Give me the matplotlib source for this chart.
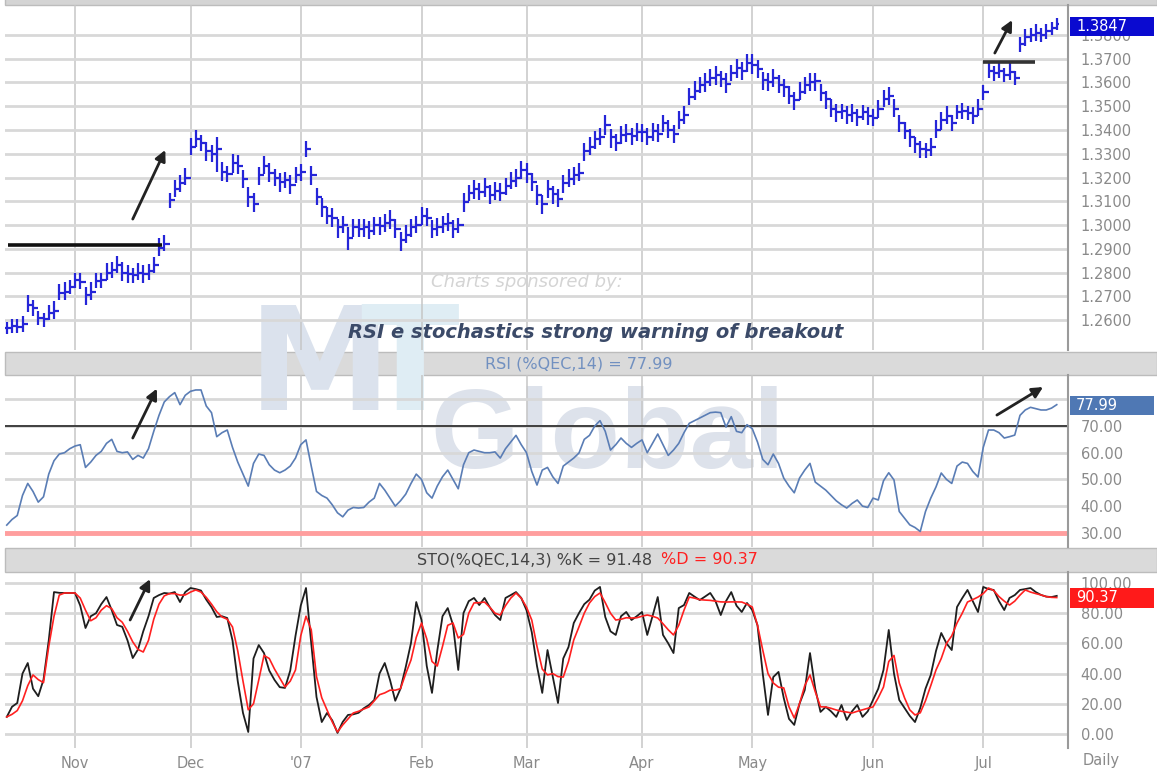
import numpy as np
import pandas as pd
import matplotlib
matplotlib.use("Agg")
import matplotlib.pyplot as plt
import matplotlib.transforms as mtransforms
from matplotlib.patches import Rectangle

# daily EUR/USD style data, 13 Oct 2006 - 20 Jul 2007 (weekdays)
closes = [
    1.2565, 1.2575, 1.2570, 1.2585, 1.2665, 1.2650, 1.2610, 1.2605, 1.2630, 1.2640,
    1.2715, 1.2720, 1.2740, 1.2770, 1.2760, 1.2705, 1.2720, 1.2765, 1.2770, 1.2800,
    1.2810, 1.2830, 1.2800, 1.2795, 1.2790, 1.2800, 1.2795, 1.2805, 1.2830, 1.2905,
    1.2920, 1.3105, 1.3150, 1.3175, 1.3200, 1.3330, 1.3360, 1.3345, 1.3310, 1.3300,
    1.3320, 1.3225, 1.3215, 1.3260, 1.3250, 1.3195, 1.3120, 1.3090, 1.3210, 1.3250,
    1.3220, 1.3200, 1.3180, 1.3190, 1.3170, 1.3210, 1.3225, 1.3320, 1.3210, 1.3120,
    1.3075, 1.3040, 1.3030, 1.2990, 1.3000, 1.2945, 1.2990, 1.2985, 1.2990, 1.2975,
    1.3000, 1.2995, 1.3010, 1.3020, 1.2985, 1.2935, 1.2960, 1.2990, 1.3000, 1.3040,
    1.3030, 1.2985, 1.2990, 1.3005, 1.3010, 1.2985, 1.3000, 1.3095, 1.3135, 1.3150,
    1.3140, 1.3160, 1.3125, 1.3145, 1.3135, 1.3165, 1.3185, 1.3200, 1.3230, 1.3215,
    1.3180, 1.3125, 1.3090, 1.3150, 1.3130, 1.3110, 1.3175, 1.3195, 1.3210, 1.3220,
    1.3310, 1.3330, 1.3360, 1.3370, 1.3420, 1.3370, 1.3345, 1.3380, 1.3385, 1.3375,
    1.3390, 1.3390, 1.3370, 1.3395, 1.3385, 1.3430, 1.3400, 1.3385, 1.3440, 1.3465,
    1.3540, 1.3565, 1.3590, 1.3600, 1.3620, 1.3630, 1.3615, 1.3595, 1.3640, 1.3660,
    1.3650, 1.3680, 1.3675, 1.3655, 1.3610, 1.3600, 1.3620, 1.3590, 1.3580, 1.3545,
    1.3525, 1.3560, 1.3590, 1.3600, 1.3605, 1.3555, 1.3530, 1.3490, 1.3475, 1.3480,
    1.3465, 1.3470, 1.3455, 1.3475, 1.3460, 1.3450, 1.3490, 1.3530, 1.3545, 1.3490,
    1.3430, 1.3395, 1.3370, 1.3340, 1.3320, 1.3315, 1.3330, 1.3400, 1.3440, 1.3460,
    1.3430, 1.3475, 1.3480, 1.3470, 1.3460, 1.3490, 1.3560, 1.3650, 1.3640, 1.3650,
    1.3630, 1.3645, 1.3620, 1.3760, 1.3790, 1.3800, 1.3810, 1.3800, 1.3815, 1.3830,
    1.3847,
]

# bar extent above / below the close, in pips
hi_pips = [
    25, 30, 35, 30, 40, 35, 30, 25, 35, 40,
    35, 40, 30, 30, 40, 35, 40, 35, 30, 40,
    35, 40, 45, 35, 30, 40, 35, 30, 35, 40,
    40, 30, 40, 35, 40, 35, 40, 35, 40, 35,
    50, 40, 35, 40, 45, 35, 40, 45, 35, 40,
    40, 35, 40, 35, 40, 35, 30, 35, 40, 35,
    40, 35, 40, 35, 40, 45, 35, 40, 35, 40,
    35, 40, 35, 45, 40, 35, 40, 35, 40, 35,
    40, 35, 40, 35, 40, 35, 30, 40, 35, 40,
    35, 40, 45, 35, 40, 35, 40, 35, 40, 45,
    40, 45, 35, 40, 35, 40, 35, 40, 35, 40,
    35, 40, 35, 40, 45, 35, 40, 35, 40, 35,
    40, 35, 40, 35, 40, 35, 40, 35, 40, 35,
    35, 40, 35, 40, 35, 40, 35, 45, 35, 40,
    35, 40, 45, 40, 35, 40, 35, 40, 35, 40,
    35, 40, 35, 40, 35, 40, 35, 40, 35, 30,
    35, 40, 35, 30, 35, 40, 35, 40, 35, 40,
    35, 40, 35, 30, 35, 30, 35, 40, 35, 40,
    35, 30, 35, 30, 35, 40, 30, 35, 30, 35,
    30, 35, 30, 30, 35, 30, 35, 30, 30, 25,
    25,
]
lo_pips = [
    25, 30, 25, 35, 30, 35, 30, 35, 30, 35,
    30, 35, 30, 35, 30, 40, 35, 30, 35, 30,
    35, 30, 35, 40, 35, 30, 40, 35, 30, 35,
    30, 35, 30, 35, 30, 35, 30, 35, 40, 35,
    95, 40, 35, 40, 35, 40, 45, 35, 40, 35,
    40, 35, 40, 35, 40, 35, 40, 35, 40, 35,
    40, 35, 40, 45, 35, 50, 40, 35, 40, 35,
    40, 35, 40, 35, 40, 45, 35, 40, 35, 40,
    35, 40, 35, 40, 35, 40, 35, 40, 35, 40,
    35, 40, 35, 40, 35, 40, 35, 40, 35, 40,
    35, 40, 45, 35, 40, 35, 40, 35, 40, 35,
    40, 35, 40, 35, 40, 45, 35, 40, 35, 40,
    35, 40, 35, 40, 35, 40, 35, 40, 35, 40,
    35, 40, 35, 40, 35, 40, 35, 40, 35, 40,
    40, 35, 40, 35, 40, 35, 40, 35, 40, 35,
    40, 35, 40, 35, 40, 35, 40, 35, 40, 35,
    40, 35, 40, 35, 40, 35, 40, 35, 40, 35,
    40, 35, 40, 35, 40, 35, 40, 35, 40, 35,
    35, 30, 35, 30, 35, 30, 35, 30, 35, 30,
    30, 35, 30, 30, 35, 30, 35, 30, 30, 30,
    25,
]

rsi = [
    32.9, 35.0, 36.5, 44.0, 48.5, 45.5, 41.5, 43.5, 52.0, 57.0,
    59.5, 60.0, 61.5, 62.5, 63.0, 54.5, 56.5, 59.0, 60.5, 63.5,
    65.0, 60.5, 60.0, 60.3, 57.5, 59.0, 58.0, 61.5, 68.0, 74.0,
    79.0, 81.0, 82.5, 78.0, 81.5, 83.0, 83.5, 83.5, 77.5, 75.0,
    66.0, 67.5, 68.5, 62.0, 56.5, 52.0, 47.5, 56.0, 59.5, 59.0,
    55.5, 53.5, 52.5, 53.5, 55.0, 58.0, 63.0, 64.8, 55.0, 45.5,
    44.0, 43.0, 40.5, 37.5, 36.0, 38.5, 39.5, 39.3, 39.5, 41.5,
    43.0, 48.5, 46.0, 43.0, 40.0, 42.0, 44.5, 48.5, 52.0, 50.0,
    45.0, 43.0, 47.5, 51.0, 53.5, 50.0, 46.5, 55.5, 60.0, 61.0,
    60.5, 60.0, 60.0, 60.3, 58.0, 61.5, 64.0, 66.5, 63.0, 60.0,
    53.0, 47.9, 53.5, 54.5, 51.0, 48.5, 55.0, 56.5, 58.0, 59.9,
    65.0, 66.5, 70.0, 72.0, 68.0, 61.0, 63.0, 65.5, 63.5, 62.0,
    63.5, 64.8, 60.0, 63.5, 67.0, 63.0, 59.0, 61.0, 63.5, 67.5,
    71.0, 72.0, 73.0, 74.0, 75.0, 75.2, 75.0, 69.6, 73.5, 68.0,
    67.5, 70.5, 69.0, 64.0, 57.5, 55.5, 59.5, 56.0, 50.5, 47.5,
    45.0, 50.5, 53.5, 56.0, 49.0, 47.5, 46.0, 44.0, 42.0, 40.5,
    39.3, 41.0, 42.3, 40.0, 39.5, 43.0, 42.3, 49.5, 52.5, 49.8,
    38.0, 35.5, 33.0, 32.0, 30.5, 38.0, 43.0, 47.2, 52.4, 50.0,
    48.5, 55.0, 56.5, 56.0, 53.0, 50.9, 62.0, 68.5, 68.5, 67.5,
    65.5, 66.0, 66.6, 74.0, 76.0, 77.0, 76.5, 76.0, 76.0, 76.7,
    77.99,
]

sto_k = [
    11.3, 18.0, 20.5, 40.0, 47.0, 30.0, 25.0, 36.0, 62.0, 94.0,
    93.5, 93.4, 93.4, 93.4, 85.0, 70.2, 78.0, 80.0, 86.0, 90.7,
    82.0, 72.2, 71.0, 62.0, 50.3, 56.0, 68.0, 78.0, 90.1, 92.0,
    93.4, 93.0, 94.0, 87.4, 94.0, 96.7, 96.0, 95.0, 89.0, 84.0,
    77.5, 78.0, 76.8, 62.0, 35.0, 13.9, 1.3, 50.0, 58.9, 53.6,
    42.0, 35.8, 31.0, 30.5, 42.0, 65.0, 85.0, 96.7, 60.0, 24.5,
    7.9, 13.9, 9.0, 0.7, 8.0, 12.6, 13.0, 14.0, 17.0, 19.2,
    22.5, 40.0, 47.0, 35.8, 22.0, 30.0, 44.4, 60.3, 87.4, 75.5,
    45.0, 27.2, 55.0, 78.0, 83.4, 72.2, 42.4, 80.1, 88.0, 90.1,
    85.4, 90.1, 84.0, 78.8, 75.5, 90.1, 92.0, 94.0, 90.1, 82.0,
    67.5, 45.0, 27.2, 55.6, 38.0, 20.5, 50.0, 57.6, 73.5, 80.1,
    86.0, 89.0, 95.0, 97.4, 77.5, 68.0, 65.6, 78.0, 80.8, 75.5,
    78.0, 80.8, 65.6, 78.0, 90.7, 65.6, 60.0, 53.6, 83.4, 85.4,
    93.4, 91.0, 88.7, 91.0, 93.4, 88.0, 78.8, 88.0, 94.0, 85.0,
    80.8, 86.8, 82.1, 72.0, 40.0, 12.6, 37.7, 41.1, 23.8, 10.0,
    6.0, 20.0, 29.1, 53.6, 30.0, 14.6, 17.9, 15.0, 11.3, 19.2,
    9.3, 15.0, 19.2, 11.3, 15.0, 22.5, 30.0, 42.4, 68.9, 40.0,
    22.5, 17.2, 12.0, 7.9, 17.2, 30.0, 39.1, 55.0, 66.9, 60.0,
    55.6, 84.1, 90.0, 95.4, 88.0, 80.8, 97.4, 96.0, 95.4, 88.0,
    82.1, 90.1, 92.0, 95.4, 96.0, 96.7, 94.0, 92.1, 91.0, 90.7,
    91.48,
]

sto_d = [
    11.3, 13.0, 15.5, 22.0, 32.0, 39.1, 36.0, 34.0, 58.0, 78.0,
    92.0, 93.4, 93.4, 93.4, 90.0, 82.0, 75.0, 77.0, 82.0, 85.0,
    83.0, 77.0, 74.0, 68.0, 61.0, 56.0, 54.3, 62.0, 76.0, 86.0,
    91.5, 93.0, 93.0, 92.0, 92.1, 94.0, 95.4, 94.0, 90.5, 86.0,
    81.0, 77.5, 76.0, 70.9, 55.0, 35.0, 16.0, 20.0, 35.8, 52.0,
    50.0, 43.0, 37.0, 31.1, 35.0, 42.4, 65.0, 78.0, 69.0, 38.0,
    24.0, 15.9, 8.0, 1.3, 6.0, 10.0, 13.9, 15.0, 16.5, 17.9,
    22.0, 26.0, 27.2, 29.0, 29.0, 30.0, 40.0, 49.0, 64.0, 73.5,
    63.0, 48.0, 45.0, 58.0, 72.0, 73.5, 63.6, 66.0, 80.0, 86.8,
    87.0, 87.4, 84.0, 80.0, 78.8, 85.0, 90.0, 93.4, 90.0, 84.0,
    75.5, 58.0, 43.0, 39.1, 40.0, 38.0, 37.7, 48.0, 62.3, 71.0,
    80.0, 86.8, 91.0, 93.4, 87.0, 80.0, 75.5, 76.0, 77.0, 76.8,
    77.0, 78.0, 78.8, 78.0, 76.8, 73.0, 69.0, 65.6, 72.0, 82.0,
    90.7, 90.0, 89.0, 88.7, 88.5, 88.0, 87.5, 87.4, 87.5, 87.5,
    87.4, 86.0, 84.1, 72.0, 55.6, 40.0, 33.8, 31.0, 30.5, 18.0,
    10.6, 20.0, 32.0, 39.1, 28.0, 18.0, 17.9, 17.0, 15.9, 15.0,
    14.5, 13.9, 15.0, 16.0, 17.0, 17.9, 24.0, 31.1, 48.0, 52.0,
    33.8, 24.0, 16.0, 12.6, 14.0, 22.0, 32.0, 42.4, 50.0, 60.0,
    65.0, 73.5, 80.0, 87.4, 89.0, 90.7, 93.0, 96.7, 95.0, 91.0,
    88.0, 85.4, 88.0, 92.0, 95.4, 94.0, 93.0, 92.1, 91.0, 90.5,
    90.37,
]

price_ticks = [1.26, 1.27, 1.28, 1.29, 1.30, 1.31, 1.32, 1.33, 1.34, 1.35, 1.36, 1.37, 1.38]
rsi_ticks = [30, 40, 50, 60, 70, 80]
sto_ticks = [0, 20, 40, 60, 80, 100]

dates = pd.bdate_range("2006-10-13", "2007-07-20")
n = len(dates)
idx = np.arange(n)
closes = np.array(closes)
highs = closes + np.array(hi_pips) / 10000.0
lows = closes - np.array(lo_pips) / 10000.0
opens = np.r_[closes[0], closes[:-1]]

month_pos = [i for i in range(1, n) if dates[i].month != dates[i - 1].month]
month_lbl = ["'07" if dates[i].month == 1 else dates[i].strftime("%b") for i in month_pos]

W, H = 1157, 773
fig = plt.figure(figsize=(W / 100, H / 100), dpi=100)
fig.patch.set_facecolor("white")


def px_box(x0, y0, x1, y1):
    return [x0 / W, 1 - y1 / H, (x1 - x0) / W, (y1 - y0) / H]


def strip(y0, y1, color="#dadada"):
    fig.add_artist(Rectangle((5 / W, 1 - y1 / H), (W - 5) / W, (y1 - y0) / H,
                             transform=fig.transFigure, facecolor=color,
                             edgecolor="#bcbcbc", lw=1, zorder=-2))


strip(-2, 5, "#d4d4d4")
strip(352, 375)
strip(548, 572)

# watermark (behind the data)
fig.text(248 / W, 1 - 410 / H, "M", fontsize=104, family="Liberation Sans Narrow",
         weight="bold", color="#dbe2ed", ha="left", va="baseline", zorder=-1)
fig.text(360 / W, 1 - 410 / H, "T", fontsize=104, family="Liberation Sans Narrow",
         weight="bold", color="#dfedf4", ha="left", va="baseline", zorder=-1)
fig.text(430 / W, 1 - 468 / H, "Global", fontsize=82, family="Liberation Sans",
         weight="bold", color="#dde2eb", ha="left", va="baseline", zorder=-1)

ax_p = fig.add_axes(px_box(5, 5, 1068, 350))
ax_r = fig.add_axes(px_box(5, 375, 1068, 547))
ax_s = fig.add_axes(px_box(5, 572, 1068, 748))

xlim = ((5 - 6.75) / 5.25, (1068 - 6.75) / 5.25)
grey_lbl = "#8a8a8a"
for ax in (ax_p, ax_r, ax_s):
    ax.set_facecolor("none")
    for s in ("top", "left", "bottom"):
        ax.spines[s].set_visible(False)
    ax.spines["right"].set_color("#9a9a9a")
    ax.spines["right"].set_linewidth(1.5)
    ax.set_xlim(*xlim)
    ax.set_xticks(month_pos)
    ax.yaxis.tick_right()
    ax.tick_params(axis="y", length=0, pad=9, labelsize=10.5, labelcolor=grey_lbl)
    ax.tick_params(axis="x", length=0)
    ax.grid(axis="y", color="#d8d8d8", lw=2)
    ax.grid(axis="x", color="#c6c6c6", lw=1.1)
    ax.set_axisbelow(True)

ax_p.tick_params(axis="x", labelbottom=False)
ax_r.tick_params(axis="x", labelbottom=False)
ax_s.set_xticklabels(month_lbl)
ax_s.tick_params(axis="x", pad=6, labelsize=10.5, labelcolor=grey_lbl)

# price panel
blue = "#2525d8"
ax_p.vlines(idx, lows, highs, color=blue, lw=1.6)
ax_p.hlines(opens, idx - 0.5, idx, color=blue, lw=1.6)
ax_p.hlines(closes, idx, idx + 0.5, color=blue, lw=1.6)
ax_p.set_ylim(1.24737, 1.39263)
ax_p.set_yticks(price_ticks)
ax_p.set_yticklabels([f"{v:.4f}" for v in price_ticks])
ax_p.hlines(1.2916, 0.3, 29.6, color="#111111", lw=2.6, zorder=4)
ax_p.hlines(1.3685, 186, 195.9, color="#333333", lw=2.6, zorder=4)

arrow = dict(arrowstyle="-|>", color="#222222", lw=2, mutation_scale=16, shrinkA=0, shrinkB=0)
ax_p.annotate("", xy=(30.2, 1.3316), xytext=(24.0, 1.3025), arrowprops=arrow, zorder=5)
ax_p.annotate("", xy=(191.5, 1.3863), xytext=(188.2, 1.3724), arrowprops=arrow, zorder=5)

# RSI panel
ax_r.plot(idx, rsi, color="#5a7db5", lw=1.2, zorder=3)
ax_r.axhline(70, color="#333333", lw=1.3, zorder=2)
ax_r.axhline(30, color="#ff9e9e", lw=3.5, zorder=2)
ax_r.set_ylim(24.7, 89.1)
ax_r.set_yticks(rsi_ticks)
# the 80 level is hidden behind the value box in the original
ax_r.set_yticklabels([f"{v:.2f}" if v != 80 else "" for v in rsi_ticks])
ax_r.annotate("", xy=(28.6, 84.0), xytext=(24.0, 65.5), arrowprops=arrow, zorder=5)
ax_r.annotate("", xy=(197.4, 84.6), xytext=(188.6, 74.1), arrowprops=arrow, zorder=5)

# stochastics panel
ax_s.plot(idx, sto_k, color="#1e1e1e", lw=1.3, zorder=3)
ax_s.plot(idx, sto_d, color="#ff2020", lw=1.2, zorder=4)
ax_s.set_ylim(-9.3, 107.3)
ax_s.set_yticks(sto_ticks)
ax_s.set_yticklabels([f"{v:.2f}" for v in sto_ticks])
ax_s.annotate("", xy=(27.3, 102.6), xytext=(23.5, 75.5), arrowprops=arrow, zorder=5)
a2 = ax_s.annotate("", xy=(197.8, 113.2), xytext=(190.3, 97.4), arrowprops=arrow, zorder=5)
a2.set_clip_on(False)


def value_box(ax, val, txt, color, h_px, ax_h_px, dy_px=0.0):
    lo, hi = ax.get_ylim()
    per_px = (hi - lo) / ax_h_px
    h = h_px * per_px
    yc = val - dy_px * per_px
    tr = mtransforms.blended_transform_factory(ax.transAxes, ax.transData)
    x0 = (1070 - 5) / 1063
    w = (1154 - 1070) / 1063
    ax.add_patch(Rectangle((x0, yc - h / 2), w, h, transform=tr, facecolor=color,
                           edgecolor="none", clip_on=False, zorder=6))
    ax.text((1076 - 5) / 1063, yc, txt, transform=tr, color="white", fontsize=10.5,
            va="center", ha="left", zorder=7, clip_on=False)


value_box(ax_p, closes[-1], f"{closes[-1]:.4f}", "#0a0ad0", 19, 345, dy_px=3)
value_box(ax_r, rsi[-1], f"{rsi[-1]:.2f}", "#4f78b4", 19, 172, dy_px=1)
value_box(ax_s, sto_d[-1], f"{sto_d[-1]:.2f}", "#ff1a1a", 20, 176)

# header / caption texts
fig.text(579 / W, 1 - 364 / H, f"RSI (%QEC,14) = {rsi[-1]:.2f}", color="#7190c0",
         fontsize=11.5, ha="center", va="center")
fig.text(652 / W, 1 - 560 / H, f"STO(%QEC,14,3) %K = {sto_k[-1]:.2f}", color="#444444",
         fontsize=11.5, ha="right", va="center")
fig.text(661 / W, 1 - 560 / H, f"%D = {sto_d[-1]:.2f}", color="#ff2020",
         fontsize=11.5, ha="left", va="center")
fig.text(1101 / W, 1 - 761 / H, "Daily", color=grey_lbl, fontsize=10.5,
         ha="center", va="center")
fig.text(527 / W, 1 - 282 / H, "Charts sponsored by:", color="#d4d4d4", fontsize=13,
         style="italic", ha="center", va="center")
fig.text(596 / W, 1 - 333 / H, "RSI e stochastics strong warning of breakout",
         color="#3b4a68", fontsize=14, weight="bold", style="italic",
         ha="center", va="center", zorder=10)

fig.savefig("out.png", dpi=100)
